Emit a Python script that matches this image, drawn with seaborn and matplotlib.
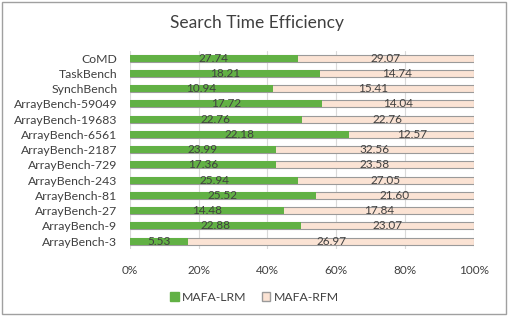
import matplotlib
matplotlib.use("Agg")
import matplotlib.pyplot as plt
import seaborn as sns
import pandas as pd
import numpy as np
from matplotlib.patches import Rectangle, Patch

categories = ["CoMD", "TaskBench", "SynchBench", "ArrayBench-59049", "ArrayBench-19683",
              "ArrayBench-6561", "ArrayBench-2187", "ArrayBench-729", "ArrayBench-243",
              "ArrayBench-81", "ArrayBench-27", "ArrayBench-9", "ArrayBench-3"]
lrm = [27.74, 18.21, 10.94, 17.72, 22.76, 22.18, 23.99, 17.36, 25.94, 25.52, 14.48, 22.88, 5.53]
rfm = [29.07, 14.74, 15.41, 14.04, 22.76, 12.57, 32.56, 23.58, 27.05, 21.60, 17.84, 23.07, 26.97]
xticks = [0, 20, 40, 60, 80, 100]
xticklabels = ["0%", "20%", "40%", "60%", "80%", "100%"]

GREEN = "#62b145"
PEACH = "#fbe3d4"
EDGE = "#9a9a9a"
TXT = "#404040"

sns.set_theme(style="white")
plt.rcParams['font.family'] = ['Lato', 'DejaVu Sans']

df = pd.DataFrame({"cat": categories, "lrm": lrm, "rfm": rfm})
df["total"] = df["lrm"] + df["rfm"]
df["p_lrm"] = df["lrm"] / df["total"] * 100
df["p_all"] = (df["lrm"] + df["rfm"]) / df["total"] * 100

fig = plt.figure(figsize=(5.09, 3.16), dpi=100)
ax = fig.add_axes([0.255, 0.213, 0.676, 0.627])

sns.barplot(data=df, y="cat", x="p_all", orient="h", color=PEACH, edgecolor=EDGE,
            linewidth=0.8, width=0.45, ax=ax, saturation=1, zorder=2)
sns.barplot(data=df, y="cat", x="p_lrm", orient="h", color=GREEN, edgecolor=GREEN,
            linewidth=0, width=0.45, ax=ax, saturation=1, zorder=3)

for i, row in df.iterrows():
    ax.text(row["p_lrm"] / 2, i, f"{row['lrm']:.2f}", ha="center", va="center",
            fontsize=8.5, color=TXT, zorder=5)
    ax.text((row["p_lrm"] + 100) / 2, i, f"{row['rfm']:.2f}", ha="center", va="center",
            fontsize=8.5, color=TXT, zorder=5)

ax.set_xlim(0, 100)
ax.set_ylim(12.5, -0.5)
ax.set_xticks(xticks)
ax.set_xticklabels(xticklabels, fontsize=8.5, color=TXT)
ax.tick_params(axis="x", length=0, pad=12)
ax.tick_params(axis="y", length=0, pad=9, labelsize=8.8, labelcolor=TXT)
ax.set_xlabel("")
ax.set_ylabel("")
ax.xaxis.grid(True, color="#d9d9d9", linewidth=0.8, zorder=0)
ax.set_axisbelow(True)
for s in ax.spines.values():
    s.set_visible(False)

fig.text(0.505, 0.928, "Search Time Efficiency", ha="center", va="center",
         fontsize=12.5, color="#404040")

handles = [Patch(facecolor=GREEN, edgecolor=GREEN, label="MAFA-LRM"),
           Patch(facecolor=PEACH, edgecolor=EDGE, label="MAFA-RFM")]
fig.legend(handles=handles, loc="center", bbox_to_anchor=(0.5, 0.06), ncol=2,
           frameon=False, fontsize=8.8, handlelength=0.7, handleheight=0.7,
           handletextpad=0.3, columnspacing=1.2, labelcolor=TXT)

fig.patches.append(Rectangle((0.004, 0.006), 0.99, 0.988, transform=fig.transFigure,
                             fill=False, edgecolor="#a0a0a0", linewidth=1.0))

fig.savefig("out.png", dpi=100)
